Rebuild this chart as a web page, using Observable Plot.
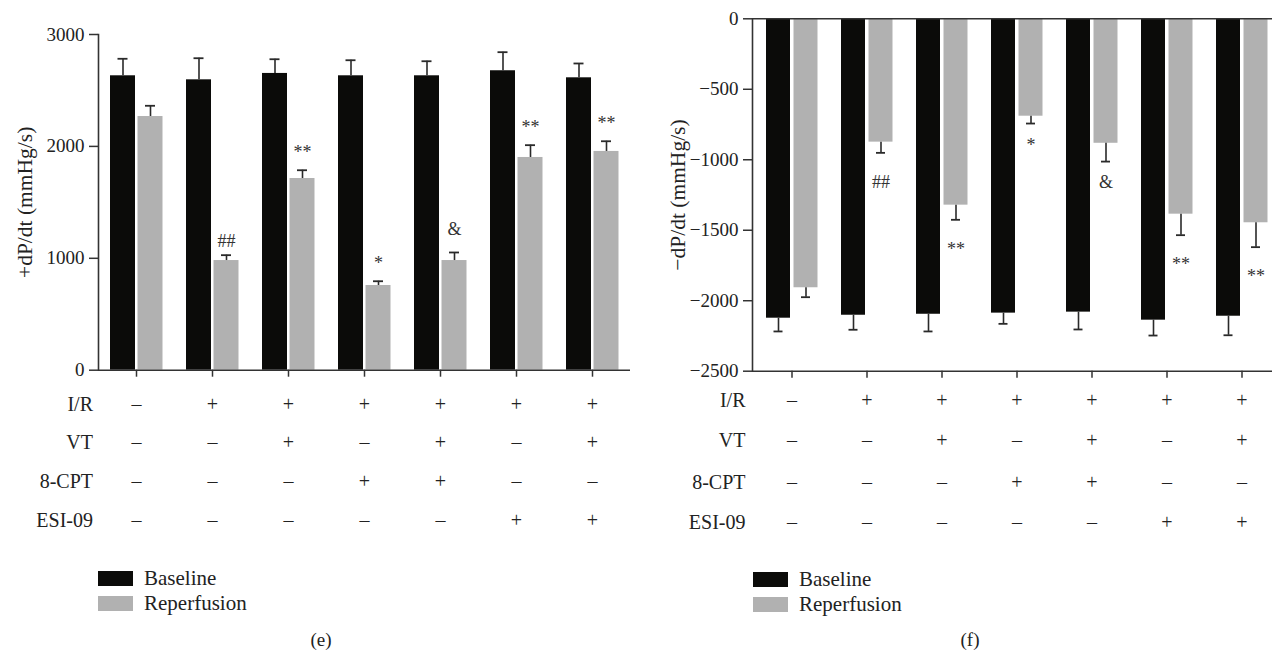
<!DOCTYPE html>
<html>
<head>
<meta charset="utf-8">
<script src="https://cdn.jsdelivr.net/npm/d3@7"></script>
<script src="https://cdn.jsdelivr.net/npm/@observablehq/plot@0.6"></script>
<style>
  html, body { margin: 0; padding: 0; background: #fff; }
  #wrap { position: relative; width: 1272px; height: 652px; overflow: hidden; font-family: "Liberation Serif", "Times New Roman", serif; color: #222; }
  .panel { position: absolute; top: 0; }
  .panel svg { max-width: none !important; opacity: 0.999; }
  .legend { position: absolute; font-size: 21px; line-height: 25px; }
  .legend .item { display: flex; align-items: center; height: 25px; }
  .legend .sw { width: 35px; height: 15px; margin-right: 11px; }
  .cap { position: absolute; font-size: 19px; transform: translateX(-50%); }
</style>
</head>
<body>
<div id="wrap">
  <div id="left" class="panel" style="left:0px; width:640px"></div>
  <div id="right" class="panel" style="left:640px; width:641px"></div>
  <div id="legL" class="legend" style="left:98px; top:566px"></div>
  <div id="legR" class="legend" style="left:753px; top:567px"></div>
  <div class="cap" id="capL" style="left:321px; top:629px"></div>
  <div class="cap" id="capR" style="left:970px; top:629px"></div>
</div>
<script>
// ---- data ----
const groups = ["1", "2", "3", "4", "5", "6", "7"];
const series = ["Baseline", "Reperfusion"];
const seriesColors = ["#0b0b09", "#b1b1b1"];

const plusBaseline = [2631, 2595, 2652, 2631, 2631, 2676, 2613];
const plusBaselineErr = [152, 193, 127, 139, 130, 166, 128];
const plusReperfusion = [2267, 980, 1713, 757, 980, 1901, 1955];
const plusReperfusionErr = [96, 48, 74, 38, 72, 110, 91];

const minusBaseline = [-2124, -2103, -2096, -2088, -2081, -2138, -2110];
const minusBaselineErr = [94, 103, 122, 76, 123, 109, 135];
const minusReperfusion = [-1908, -875, -1322, -691, -883, -1386, -1447];
const minusReperfusionErr = [67, 76, 104, 52, 130, 149, 173];

const sigMarks = ["", "##", "**", "*", "&", "**", "**"];

const rowLabels = ["I/R", "VT", "8-CPT", "ESI-09"];
const rowIR = ["–", "+", "+", "+", "+", "+", "+"];
const rowVT = ["–", "–", "+", "–", "+", "–", "+"];
const rowCPT = ["–", "–", "–", "+", "+", "–", "–"];
const rowESI = ["–", "–", "–", "–", "–", "+", "+"];
const rowValues = [rowIR, rowVT, rowCPT, rowESI];

const plusTicks = [0, 1000, 2000, 3000];
const minusTicks = [-2500, -2000, -1500, -1000, -500, 0];

const titles = ["+dP/dt (mmHg/s)", "−dP/dt (mmHg/s)"];
const captions = ["(e)", "(f)"];

// ---- chart builder ----
const fmt = d => d < 0 ? "−" + (-d) : String(d);
const ink = "#2a2a2a";

// glyph-dependent vertical nudge of the significance symbols
function markDy(label, sign) {
  if (sign > 0) return label === "&" ? -17 : label === "##" ? -8 : -12;
  return label === "&" ? 14 : label === "*" ? 15 : 22;
}

function makeChart(cfg) {
  const base = groups.map((g, i) => ({group: g, value: cfg.base[i], err: cfg.baseErr[i], sign: cfg.sign}));
  const rep = groups.map((g, i) => ({group: g, value: cfg.rep[i], err: cfg.repErr[i], sign: cfg.sign, mark: sigMarks[i]}));
  const end = d => d.value + d.sign * d.err;
  const bOff = -13.5, rOff = 14;
  const marks = [
    Plot.barY(base, {x: "group", y: "value", fill: seriesColors[0], insetLeft: 12, insetRight: 39}),
    Plot.barY(rep, {x: "group", y: "value", fill: seriesColors[1], insetLeft: 39.5, insetRight: 11.5}),
    Plot.ruleX(base, {x: "group", y1: "value", y2: end, dx: bOff, stroke: ink, strokeWidth: 1.6}),
    Plot.tickY(base, {x: "group", y: end, dx: bOff, insetLeft: 33, insetRight: 33, stroke: ink, strokeWidth: 1.8}),
    Plot.ruleX(rep, {x: "group", y1: "value", y2: end, dx: rOff, stroke: ink, strokeWidth: 1.6}),
    Plot.tickY(rep, {x: "group", y: end, dx: rOff, insetLeft: 33, insetRight: 33, stroke: ink, strokeWidth: 1.8})
  ];
  [...new Set(sigMarks.filter(m => m))].forEach(lab => {
    marks.push(Plot.text(rep.filter(d => d.mark === lab), {x: "group", y: end, text: "mark", dx: rOff,
      dy: markDy(lab, cfg.sign), lineAnchor: cfg.sign > 0 ? "bottom" : "top", fontSize: 18, fill: "#333"}));
  });
  marks.push(
    Plot.frame({anchor: "left", stroke: "#333", strokeWidth: 1.6}),
    Plot.ruleY(cfg.lines, {stroke: "#333", strokeWidth: 1.6}),
    Plot.axisY({ticks: cfg.ticks, tickFormat: fmt, tickSize: 9, tickPadding: 5, fontSize: 19, label: null, stroke: "#333", strokeWidth: 1.5, fill: "#222"}),
    Plot.axisY({ticks: cfg.ticks, tickFormat: () => "", tickSize: 0, label: cfg.title, labelAnchor: "center", labelArrow: "none", labelOffset: cfg.labelOffset, fontSize: 21.5, fill: "#222"}),
    Plot.axisX({tickSize: 7, tickFormat: () => "", label: null, stroke: "#333", strokeWidth: 1.5})
  );
  rowLabels.forEach((lab, r) => {
    marks.push(Plot.text(groups, {x: d => d, text: (d, i) => rowValues[r][i], frameAnchor: "bottom", dy: cfg.rowDy[r], fontSize: 20, fill: "#222"}));
    marks.push(Plot.text([lab], {frameAnchor: "bottom-left", text: d => d, textAnchor: "end", dx: cfg.rowDx, dy: cfg.rowDy[r], fontSize: 20, fill: "#222"}));
  });
  return Plot.plot({
    width: cfg.width, height: 545,
    marginTop: cfg.marginTop, marginBottom: cfg.marginBottom,
    marginLeft: cfg.marginLeft, marginRight: cfg.marginRight,
    style: {fontFamily: "'Liberation Serif', 'Times New Roman', serif", background: "transparent", overflow: "visible"},
    x: {type: "band", domain: groups, padding: 0, axis: null},
    y: {domain: cfg.domain, axis: null},
    marks
  });
}

document.getElementById("left").appendChild(makeChart({
  base: plusBaseline, baseErr: plusBaselineErr, rep: plusReperfusion, repErr: plusReperfusionErr,
  sign: 1, domain: [0, 3000], ticks: plusTicks, lines: [0], title: titles[0], labelOffset: 82,
  width: 640, marginTop: 34, marginBottom: 175.3, marginLeft: 98, marginRight: 10,
  rowDy: [40.3, 79, 118, 157], rowDx: -5.5
}));

document.getElementById("right").appendChild(makeChart({
  base: minusBaseline, baseErr: minusBaselineErr, rep: minusReperfusion, repErr: minusReperfusionErr,
  sign: -1, domain: [-2500, 0], ticks: minusTicks, lines: [0, -2500], title: titles[1], labelOffset: 83,
  width: 641, marginTop: 18.3, marginBottom: 174.3, marginLeft: 112, marginRight: 0,
  rowDy: [36, 76, 117.3, 157.3], rowDx: -7
}));

function legend(id) {
  const el = document.getElementById(id);
  series.forEach((s, i) => {
    const item = document.createElement("div");
    item.className = "item";
    const sw = document.createElement("div");
    sw.className = "sw";
    sw.style.background = seriesColors[i];
    const t = document.createElement("span");
    t.textContent = s;
    item.appendChild(sw); item.appendChild(t);
    el.appendChild(item);
  });
}
legend("legL"); legend("legR");
document.getElementById("capL").textContent = captions[0];
document.getElementById("capR").textContent = captions[1];
</script>
</body>
</html>
